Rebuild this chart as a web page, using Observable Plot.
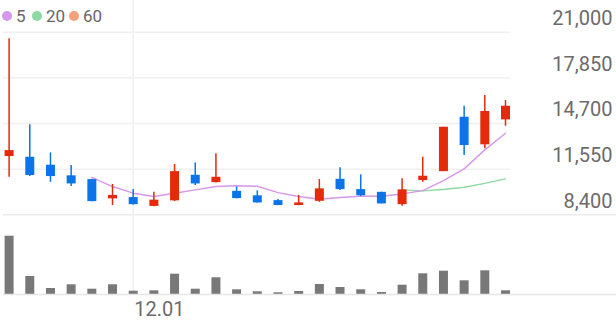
<!DOCTYPE html>
<html>
<head>
<meta charset="utf-8">
<script src="https://cdn.jsdelivr.net/npm/d3@7"></script>
<script src="https://cdn.jsdelivr.net/npm/@observablehq/plot@0.6"></script>
<style>
html, body { margin: 0; padding: 0; background: #fff; }
#wrap { position: relative; width: 616px; height: 321px; overflow: hidden; font-family: Roboto, sans-serif; }
#wrap svg { display: block; }
.legend { position: absolute; top: 0; left: 0; font-size: 17px; color: #666; }
.legend .item { position: absolute; top: 6px; display: flex; align-items: center; line-height: 20px; white-space: nowrap; }
.legend .dot { width: 10px; height: 10px; border-radius: 50%; margin-right: 4px; }
</style>
</head>
<body>
<div id="wrap"></div>
<script>
// ---- data ----
const days  = [0,1,2,3,4,5,6,7,8,9,10,11,12,13,14,15,16,17,18,19,20,21,22,23,24];
const open  = [12420,12370,11820,11090,10830, 9500, 9590, 8980, 9360,11130,10620,10020, 9710, 9380, 9040, 9330,10850,10140, 9950, 9100,10760,11380,15130,13230,14950];
const high  = [20540,14610,12670,11800,10850,10490,10140, 9950,11870,11980,12610,10310,10050, 9450, 9740,10830,11640,11160, 9960,10880,12370,14440,15890,16630,16290];
const low   = [10990,11050,10640,10350, 9300, 9040, 9070, 8950, 9310,10420,10590, 9500, 9200, 9020, 9020, 9260,10070, 9660, 9150, 8990,10640,11380,12490,12950,14510];
const close = [12830,11110,11040,10530, 9310, 9730, 9100, 9410,11380,10530,10990, 9520, 9220, 9040, 9220,10190,10140, 9710, 9150,10120,11060,14440,13180,15530,15890];
const volume = [5830,1800,600,970,530,970,330,370,2030,530,1670,470,270,170,300,1000,700,470,200,930,2070,2330,1370,2370,370];

const ma5Start = 4;
const ma5  = [10990,10350,9890,9660,9890,10120,10350,10400,10370,9930,9660,9470,9590,9680,9680,9840,10070,10760,11570,12880,14030];
const ma20Start = 19;
const ma20 = [10120,10050,10150,10300,10570,10880];

const yTicks = [8400, 11550, 14700, 17850, 21000];
const xTickIndex = [6];
const xTickLabels = ["12.01"];

const legendNames  = ["5", "20", "60"];
const legendColors = ["#d797ea", "#8fd9a2", "#f7a07c"];

// ---- build tables ----
const candles = days.map(i => ({i, o: open[i], h: high[i], l: low[i], c: close[i], up: close[i] >= open[i]}));
const vols = days.map(i => ({i, v: volume[i]}));
const ma5Data = ma5.map((v, k) => ({i: k + ma5Start, v}));
const ma20Data = ma20.map((v, k) => ({i: k + ma20Start, v}));

const UP = "#e32a0a", DOWN = "#0b74ea";
const GRID = "#f0f0f0";
const TEXT = "#6b6b6b";
const fmt = d3.format(",");

const price = Plot.plot({
  width: 616, height: 220,
  marginTop: 0, marginBottom: 0, marginLeft: 3, marginRight: 106,
  style: {fontFamily: "Roboto, sans-serif", background: "#fff", overflow: "visible"},
  x: {type: "linear", domain: [0, 24], range: [8.6, 505], axis: null},
  y: {domain: [8400, 21000], range: [214.3, 31.7], label: null},
  marks: [
    Plot.ruleY(yTicks.slice(1), {stroke: GRID, strokeWidth: 1.5}),
    Plot.ruleY(yTicks.slice(0, 1), {stroke: "#ebebeb", strokeWidth: 1.5, insetRight: -106}),
    Plot.ruleX(xTickIndex, {stroke: GRID, strokeWidth: 1.5}),
    Plot.axisY(yTicks, {anchor: "right", tickSize: 0, tickPadding: 102, textAnchor: "end", dy: -13.5,
      fontSize: 20, fill: TEXT, tickFormat: fmt, label: null}),
    Plot.line(ma20Data, {x: "i", y: "v", stroke: legendColors[1], strokeWidth: 1.4}),
    Plot.line(ma5Data, {x: "i", y: "v", stroke: legendColors[0], strokeWidth: 1.4}),
    Plot.ruleX(candles, {x: "i", y1: "l", y2: "h", stroke: d => d.up ? UP : DOWN, strokeWidth: 1.5}),
    Plot.ruleX(candles, {x: "i", y1: "o", y2: "c", stroke: d => d.up ? UP : DOWN, strokeWidth: 9})
  ]
});

const vol = Plot.plot({
  width: 616, height: 101,
  marginTop: 0, marginBottom: 27, marginLeft: 3, marginRight: 106,
  style: {fontFamily: "Roboto, sans-serif", background: "#fff", overflow: "visible"},
  x: {type: "linear", domain: [0, 24], range: [8.6, 505], label: null},
  y: {domain: [0, 6000], range: [74, 14], axis: null},
  marks: [
    Plot.ruleX(xTickIndex, {stroke: GRID, strokeWidth: 1.5}),
    Plot.ruleX(vols, {x: "i", y1: 0, y2: "v", stroke: "#787878", strokeWidth: 9}),
    Plot.ruleY([0], {stroke: "#e6e6e6", strokeWidth: 1.5, insetRight: -106}),
    Plot.axisX(xTickIndex, {anchor: "bottom", tickSize: 0, tickPadding: 7, textAnchor: "start", dx: 1,
      fontSize: 20, fill: TEXT, label: null,
      tickFormat: d => xTickLabels[xTickIndex.indexOf(d)]})
  ]
});

const wrap = document.getElementById("wrap");
wrap.appendChild(price);
wrap.appendChild(vol);

// legend
const legend = document.createElement("div");
legend.className = "legend";
const lefts = [2, 32, 69];
legendNames.forEach((name, k) => {
  const item = document.createElement("div");
  item.className = "item";
  item.style.left = lefts[k] + "px";
  const dot = document.createElement("span");
  dot.className = "dot";
  dot.style.background = legendColors[k];
  const txt = document.createElement("span");
  txt.textContent = name;
  item.appendChild(dot);
  item.appendChild(txt);
  legend.appendChild(item);
});
wrap.appendChild(legend);
</script>
</body>
</html>
